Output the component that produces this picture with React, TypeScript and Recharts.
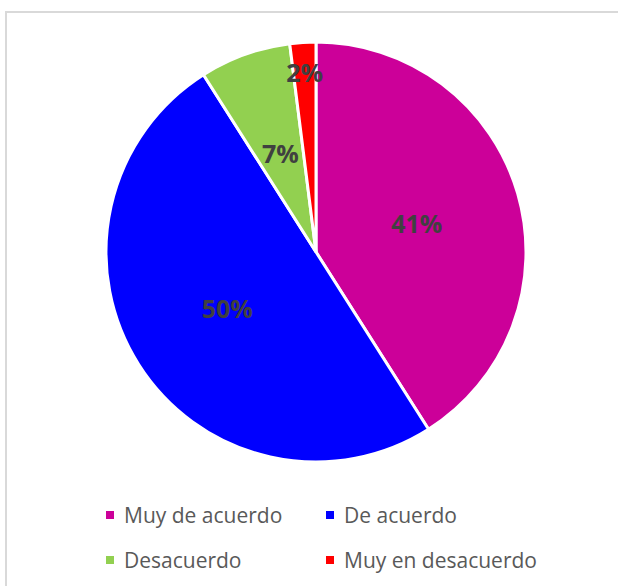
import React from "react";
import { PieChart, Pie, Cell, Legend } from "recharts";

const categories = ["Muy de acuerdo", "De acuerdo", "Desacuerdo", "Muy en desacuerdo"];
const values = [41, 50, 7, 2];
const colors = ["#CC0099", "#0000FF", "#92D050", "#FF0000"];
const labelRadiusFactor = [0.5, 0.5, 0.5, 0.86];

const data = categories.map((name, i) => ({ name, value: values[i] }));

const RADIAN = Math.PI / 180;

const renderLabel = (props: any) => {
  const { cx, cy, midAngle, outerRadius, index, value } = props;
  const r = outerRadius * labelRadiusFactor[index];
  const x = cx + r * Math.cos(-midAngle * RADIAN);
  const y = cy + r * Math.sin(-midAngle * RADIAN);
  return (
    <text
      x={x}
      y={y}
      fill="#404040"
      textAnchor="middle"
      dominantBaseline="central"
      fontFamily="'Open Sans', sans-serif"
      fontWeight={700}
      fontSize={25}
    >
      {`${value}%`}
    </text>
  );
};

const renderLegend = () => {
  const cols = [106, 326];
  const rows = [515, 560];
  return (
    <div style={{ position: "relative", width: 618, height: 586 }}>
      {categories.map((name, i) => {
        const left = cols[i % 2];
        const top = rows[Math.floor(i / 2)];
        return (
          <div
            key={name}
            style={{
              position: "absolute",
              left,
              top: top - 15,
              height: 30,
              display: "flex",
              alignItems: "center",
              whiteSpace: "nowrap",
            }}
          >
            <span
              style={{
                display: "inline-block",
                width: 8,
                height: 8,
                background: colors[i],
                marginRight: 10,
              }}
            />
            <span
              style={{
                fontFamily: "'Open Sans', sans-serif",
                fontSize: 21,
                color: "#595959",
                lineHeight: "30px",
              }}
            >
              {name}
            </span>
          </div>
        );
      })}
    </div>
  );
};

export default function App() {
  return (
    <div
      style={{
        position: "absolute",
        left: 0,
        top: 0,
        width: 618,
        height: 586,
        overflow: "hidden",
        background: "#ffffff",
      }}
    >
      <div
        style={{
          position: "absolute",
          left: 5,
          top: 11,
          width: 700,
          height: 700,
          border: "2px solid #d9d9d9",
          boxSizing: "border-box",
        }}
      />
      <div style={{ position: "absolute", left: 0, top: 0 }}>
        <PieChart width={618} height={586} margin={{ top: 0, right: 0, bottom: 0, left: 0 }}>
          <Pie
            data={data}
            dataKey="value"
            nameKey="name"
            cx={316}
            cy={252}
            outerRadius={210}
            startAngle={90}
            endAngle={-270}
            stroke="#ffffff"
            strokeWidth={3}
            label={renderLabel}
            labelLine={false}
            isAnimationActive={false}
          >
            {data.map((d, i) => (
              <Cell key={d.name} fill={colors[i]} />
            ))}
          </Pie>
          <Legend
            content={renderLegend}
            wrapperStyle={{ position: "absolute", left: 0, top: 0, width: 618, height: 586 }}
          />
        </PieChart>
      </div>
    </div>
  );
}
